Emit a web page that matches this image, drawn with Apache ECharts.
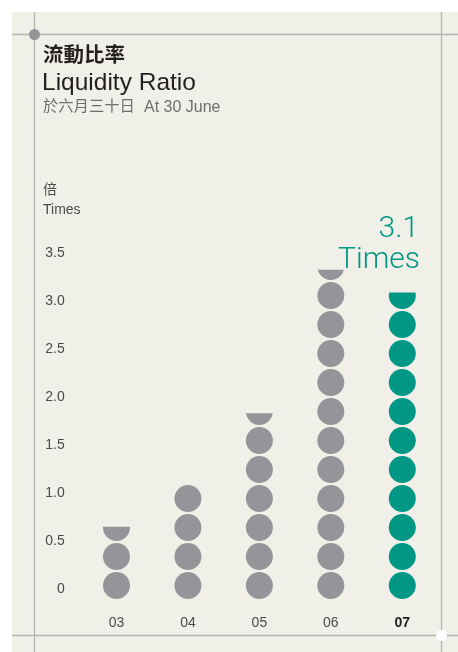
<!DOCTYPE html>
<html>
<head>
<meta charset="utf-8">
<script src="https://cdn.jsdelivr.net/npm/echarts@6/dist/echarts.min.js"></script>
<style>
html,body{margin:0;padding:0;background:#ffffff;}
#c{width:458px;height:652px;}
</style>
</head>
<body>
<div id="c"></div>
<script>
// ---- data ----
var categories = ['03', '04', '05', '06', '07'];
var ratioValues = [0.73, 1.16, 1.88, 3.33, 3.1];
var tickValues = [0, 0.5, 1.0, 1.5, 2.0, 2.5, 3.0, 3.5];
var highlightIndex = 4;
var highlightLabel = ['3.1', 'Times'];

var FONT = '"Liberation Sans", Arial, "Noto Sans CJK TC", sans-serif';
var CJK = '"Noto Sans CJK TC", "Liberation Sans", sans-serif';
var GRAY = '#939598';
var TEAL = '#009784';
var LINE = '#b4b4b4';
var BG = '#f1f0e8';

var chart = echarts.init(document.getElementById('c'), null, {renderer: 'canvas'});

var gridLeft = 80.75, gridRight = 20;

var option = {
  backgroundColor: 'transparent',
  animation: false,
  grid: [
    {left: gridLeft, right: gridRight, top: 253.5, height: 336},
    {left: gridLeft, right: gridRight, top: 253, bottom: 53}
  ],
  xAxis: [
    {gridIndex: 0, type: 'category', data: categories, show: false},
    {gridIndex: 1, type: 'category', data: categories,
     axisLine: {show: false}, axisTick: {show: false},
     axisLabel: {
       margin: 17,
       fontFamily: FONT, fontSize: 14, color: '#4a4a4c',
       formatter: function (v, i) { return i === highlightIndex ? '{b|' + v + '}' : v; },
       rich: {b: {fontFamily: FONT, fontSize: 14, fontWeight: 'bold', color: '#231f20'}}
     }}
  ],
  yAxis: [
    {gridIndex: 0, type: 'value', min: tickValues[0], max: tickValues[tickValues.length - 1], interval: 0.5,
     axisLine: {show: false}, axisTick: {show: false}, splitLine: {show: false},
     axisLabel: {
       margin: 16, fontFamily: FONT, fontSize: 14, color: '#4a4a4c',
       formatter: function (v) { return v === 0 ? '0' : v.toFixed(1); }
     }},
    {gridIndex: 1, type: 'value', min: 0, max: 3.5, show: false}
  ],
  series: [{
    type: 'pictorialBar',
    xAxisIndex: 1, yAxisIndex: 1,
    symbol: 'circle',
    symbolSize: [27, 27],
    symbolRepeat: true,
    symbolClip: true,
    symbolMargin: 1,
    symbolBoundingData: 3.5,
    barCategoryGap: '0%',
    data: ratioValues.map(function (v, i) {
      return {value: v, itemStyle: {color: i === highlightIndex ? TEAL : GRAY}};
    })
  }],
  graphic: [
    {type: 'rect', z: -20, silent: true, shape: {x: 12, y: 12, width: 446, height: 640}, style: {fill: BG}},
    {type: 'line', z: -10, silent: true, shape: {x1: 34.5, y1: 12, x2: 34.5, y2: 652}, style: {stroke: LINE, lineWidth: 1.3}},
    {type: 'line', z: -10, silent: true, shape: {x1: 441.5, y1: 12, x2: 441.5, y2: 652}, style: {stroke: LINE, lineWidth: 1.3}},
    {type: 'line', z: -10, silent: true, shape: {x1: 12, y1: 34.5, x2: 458, y2: 34.5}, style: {stroke: LINE, lineWidth: 1.3}},
    {type: 'line', z: -10, silent: true, shape: {x1: 12, y1: 635.5, x2: 458, y2: 635.5}, style: {stroke: LINE, lineWidth: 1.3}},
    {type: 'circle', z: -5, silent: true, shape: {cx: 34.5, cy: 34.5, r: 5.5}, style: {fill: GRAY}},
    {type: 'circle', z: -5, silent: true, shape: {cx: 441.5, cy: 635.5, r: 5.5}, style: {fill: '#ffffff'}},
    {type: 'text', silent: true, x: 43, y: 54.5, style: {text: '流動比率', fontFamily: CJK, fontSize: 20.5, fontWeight: 'bold', fill: '#231f20', verticalAlign: 'middle'}},
    {type: 'text', silent: true, x: 42, y: 71, style: {text: 'Liquidity Ratio', fontFamily: FONT, fontSize: 24.5, fill: '#231f20', verticalAlign: 'top'}},
    {type: 'text', silent: true, x: 43, y: 105, style: {text: '於六月三十日', fontFamily: CJK, fontSize: 15.3, fill: '#6d6e71', verticalAlign: 'middle'}},
    {type: 'text', silent: true, x: 144, y: 107.5, style: {text: 'At 30 June', fontFamily: FONT, fontSize: 16, fill: '#6d6e71', verticalAlign: 'middle'}},
    {type: 'text', silent: true, x: 43, y: 189, style: {text: '倍', fontFamily: CJK, fontSize: 14, fill: '#4a4a4c', verticalAlign: 'middle'}},
    {type: 'text', silent: true, x: 43, y: 210, style: {text: 'Times', fontFamily: FONT, fontSize: 14, fill: '#4a4a4c', verticalAlign: 'middle'}},
    {type: 'text', silent: true, x: 419, y: 229, style: {text: highlightLabel[0], fontFamily: 'Roboto, ' + FONT, fontWeight: 300, fontSize: 30, fill: TEAL, align: 'right', verticalAlign: 'middle'}},
    {type: 'text', silent: true, x: 420, y: 260, style: {text: highlightLabel[1], fontFamily: 'Roboto, ' + FONT, fontWeight: 300, fontSize: 30, fill: TEAL, align: 'right', verticalAlign: 'middle'}}
  ]
};
chart.setOption(option);
</script>
</body>
</html>
